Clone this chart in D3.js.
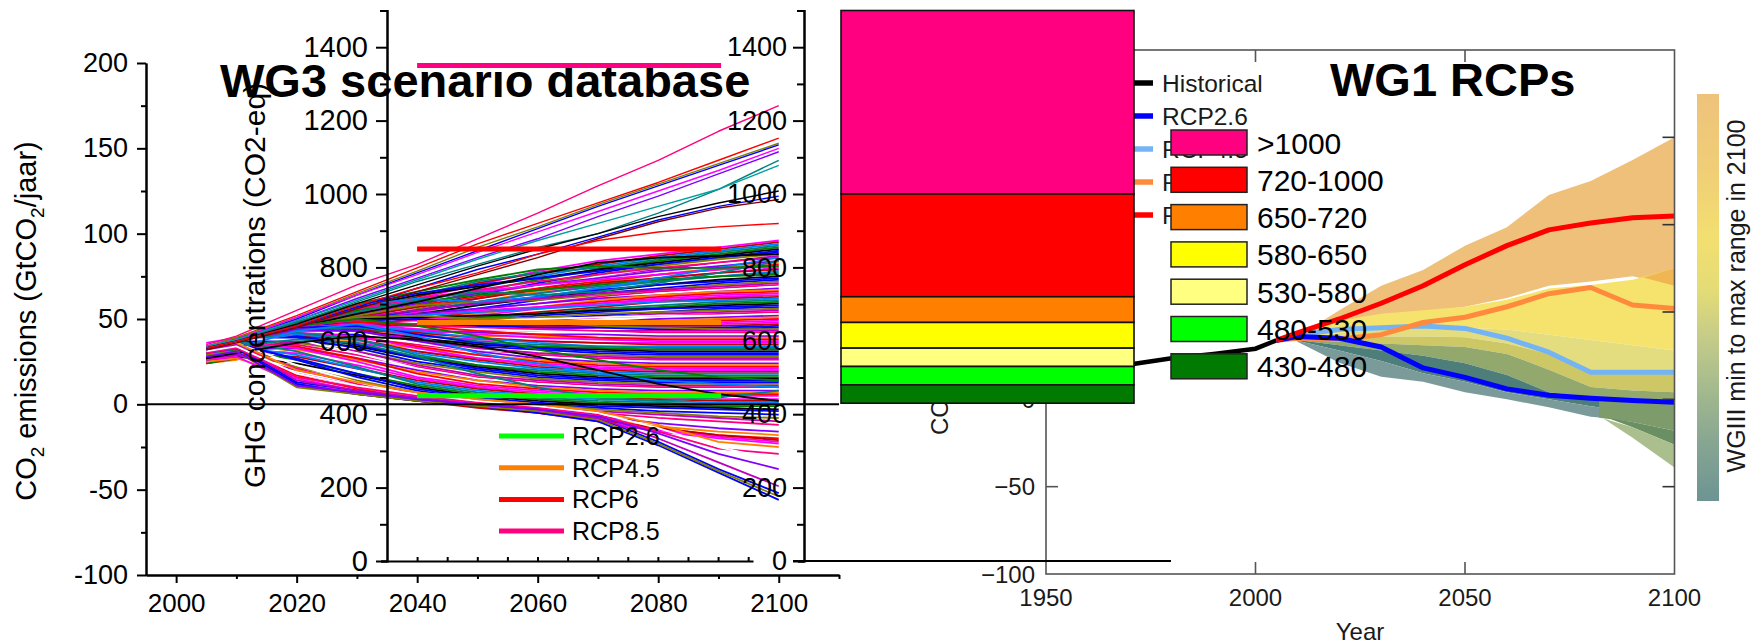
<!DOCTYPE html>
<html><head><meta charset="utf-8">
<script src="https://cdn.jsdelivr.net/npm/d3@7"></script>
<style>body{margin:0;background:#fff;}</style>
</head><body>
<svg id="c" width="1762" height="644"></svg>
<script>
// ---------------- DATA ----------------
// WG3 scenario database: CO2 emissions (GtCO2/yr)
const emisYears = [2005,2010,2020,2030,2040,2050,2060,2070,2080,2090,2100];
const emisTicks = [-100,-50,0,50,100,150,200];
const emisMinor = [-75,-25,25,75,125,175];
const yearTicks = [2000,2020,2040,2060,2080,2100];
const yearMinor = [2010,2030,2050,2070,2090,2110];
const scenTop = [
"35 40 55 70 82 97 112 128 143 160 175",
"34 39 52 66 80 94 106 118 130 143 156",
"34 39 51 65 78 92 104 117 129 141 153",
"33 38 50 64 77 90 103 116 128 140 152",
"34 38 51 64 76 89 101 113 125 137 150",
"33 38 49 62 74 86 97 110 122 135 148",
"33 37 48 60 72 82 92 100 112 126 143",
"34 38 49 61 73 85 96 106 116 126 140",
"33 37 47 59 70 81 91 100 110 118 125",
"33 37 46 57 68 79 88 98 108 116 122",
"32 36 45 56 66 76 86 97 107 115 120",
"33 37 46 58 68 77 88 96 101 104 106"];
const topColors = ["#ff0080","#ff0000","#808000","#0000ff","#ff00ff","#8000ff","#008080","#00a0a0","#000000","#0000ff","#800000","#ff0000"];
const scenUpper = [
"31 35 44 54 62 70 78 84 88 92 96","32 36 45 55 63 71 77 82 87 91 95","27 30 43 52 60 68 75 81 86 90 94",
"33 37 46 56 64 72 77 80 85 89 93","29 33 43 51 58 66 73 79 84 88 92","35 38 47 57 64 69 74 79 83 87 91",
"26 28 42 50 57 64 71 77 82 86 90","34 38 48 58 65 70 74 78 82 86 89","30 32 42 49 56 63 70 76 81 85 88",
"25 27 41 48 55 62 68 74 79 83 87","33 37 47 56 62 67 72 76 80 83 86","28 31 42 50 57 63 69 74 78 82 85",
"32 36 45 53 59 65 70 74 78 81 84","24 26 40 47 54 60 66 71 76 80 83","31 35 44 52 58 63 68 72 76 79 82",
"36 39 46 55 61 66 70 73 76 79 81","30 33 41 48 54 60 65 70 74 77 80","27 29 43 51 57 62 67 71 74 77 79",
"29 32 40 46 52 58 63 68 72 75 78","31 34 42 49 55 60 65 69 72 75 77","34 38 47 55 60 64 67 70 73 75 76",
"26 29 41 47 53 58 62 66 70 73 75","32 35 43 50 55 59 63 67 70 72 74","28 31 39 45 51 56 61 65 68 71 73",
"30 34 44 52 58 60 61 64 67 70 72","33 36 44 51 55 59 62 65 67 69 71","25 28 39 45 50 55 59 63 66 68 70",
"30 34 42 47 51 55 58 62 65 67 69","35 37 43 49 53 56 59 62 64 66 68","27 31 38 44 49 53 57 61 64 66 67",
"31 34 41 46 50 54 57 60 63 65 66","33 37 45 50 52 55 57 59 62 64 65","29 33 40 45 49 52 56 59 61 63 64",
"24 27 39 44 48 51 54 57 60 62 63","32 36 44 49 52 54 56 58 60 61 62","28 31 38 43 47 50 53 56 58 60 61",
"31 34 40 45 48 51 53 55 57 59 60","34 38 46 50 51 52 53 55 56 58 59","30 33 39 43 46 49 52 54 56 57 58",
"26 30 38 42 45 48 50 52 54 56 57","32 35 42 46 48 50 51 53 54 55 56","31 34 40 44 46 48 50 51 53 54 55",
"27 30 36 41 44 47 49 51 52 53 54","33 36 43 47 48 49 50 51 52 52 53","30 33 39 43 44 45 47 48 50 51 52",
"28 32 38 41 43 45 46 48 49 50 51","32 36 43 46 47 47 47 48 48 49 50","29 31 40 43 44 45 46 46 47 48 49",
"25 28 38 41 42 43 44 45 46 47 48","33 37 44 48 47 46 46 46 46 46 47",
"30 34 46 58 62 60 63 68 74 80 86","28 32 44 54 61 66 64 66 71 77 84","33 36 48 59 66 73 79 81 80 80 81",
"31 34 45 53 60 68 76 83 86 87 88"];
const scenLower = [
"32 36 44 49 50 48 47 46 45 45 46","27 30 42 46 47 46 45 45 44 44 45","31 35 45 51 52 50 48 46 45 44 44",
"25 28 39 43 44 44 43 43 43 43 43","34 38 46 49 47 45 44 43 42 42 42","29 32 41 45 45 44 43 42 41 41 41",
"32 36 43 45 43 42 41 41 40 40 40","26 29 38 41 41 40 40 39 39 39 39","31 35 44 48 46 43 41 39 38 38 38",
"35 38 45 47 44 41 39 38 37 37 37","28 31 40 42 40 38 37 36 36 36 36","31 35 42 44 42 39 37 36 35 35 35",
"30 34 43 46 43 39 36 34 34 34 34","33 36 44 45 41 37 35 34 33 33 33","24 27 39 40 38 36 34 33 32 32 32",
"31 35 42 43 39 35 33 32 31 31 31","34 37 45 46 41 36 33 31 30 30 30","29 32 40 41 37 34 32 30 29 29 29",
"27 30 41 42 37 33 30 29 28 28 28","32 36 43 43 38 33 30 28 27 27 27","30 33 40 39 35 31 29 27 26 26 26",
"26 29 42 42 36 31 28 26 25 25 25","33 37 44 43 37 31 27 25 24 24 24","28 31 37 37 33 29 26 24 23 23 23",
"31 34 41 40 34 29 25 23 22 22 22","32 36 42 40 33 27 24 22 21 21 21","25 27 38 36 31 27 23 21 20 20 20",
"29 33 40 38 31 26 22 20 19 19 19","31 35 41 38 30 25 21 19 18 18 18","34 37 42 38 29 23 20 18 17 17 17",
"30 33 39 35 28 23 19 17 16 16 16","27 30 37 34 27 22 18 16 15 15 15","31 35 40 35 27 21 17 15 14 14 14",
"33 36 39 33 25 20 16 14 13 13 13","28 31 36 31 24 19 15 13 12 12 12","29 32 37 31 23 17 14 12 11 11 11",
"31 34 35 29 22 16 13 11 10 10 10","35 38 38 30 21 15 12 10 9 9 9","30 32 33 27 20 14 11 9 8 8 8",
"26 28 32 26 19 14 10 8 7 7 7","31 35 34 27 18 12 9 7 6 6 6","32 36 33 25 16 11 8 6 5 5 5",
"29 31 30 23 15 10 7 5 4 3 3","27 29 28 21 14 9 6 4 3 2 2","31 34 29 21 13 8 5 3 2 1 1",
"33 37 31 22 12 7 4 2 1 0 0","30 32 26 18 11 6 3 1 0 -1 -1","26 28 24 17 10 5 2 0 -1 -2 -3",
"31 35 27 18 9 4 1 -1 -2 -3 -4","32 36 26 16 8 3 0 -2 -4 -5 -6","29 31 22 14 7 3 0 -3 -5 -7 -8",
"27 29 20 13 6 2 -1 -4 -6 -8 -10","31 34 21 12 6 2 -2 -5 -8 -10 -12","33 36 23 13 5 1 -2 -6 -9 -12 -14",
"28 30 18 11 5 1 -3 -7 -11 -14 -16","25 27 16 10 4 0 -3 -8 -13 -16 -18","31 34 17 9 3 0 -4 -9 -14 -18 -20",
"32 35 15 8 3 -1 -4 -10 -15 -19 -22","26 28 12 7 2 -1 -5 -10 -16 -20 -23","30 33 11 6 2 -2 -5 -9 -14 -18 -21",
"29 33 43 47 40 30 24 18 14 12 10","31 34 38 36 28 18 10 4 2 4 8","33 36 46 50 46 40 32 26 20 16 14",
"27 30 36 40 38 34 28 20 12 6 2"];
const scenDeep = [
"31 34 13 8 3 0 -3 -8 -22 -38 -52","30 33 12 6 2 -1 -5 -10 -24 -40 -56","29 31 10 6 2 -1 -4 -9 -23 -39 -54",
"32 35 14 8 4 0 -3 -8 -20 -34 -48","30 33 16 10 5 1 -2 -6 -16 -26 -29","31 34 18 11 6 2 -1 -5 -14 -25 -33",
"28 31 11 7 3 0 -3 -7 -17 -29 -38","33 36 20 13 7 3 0 -4 -12 -22 -25"];
const lineColors = ["#ff00ff","#0000ff","#ff0000","#000000","#8000ff","#008080","#ff0080","#c00000",
                    "#808000","#ff00ff","#0000ff","#ff8000","#008000","#ffffff","#0080ff","#c000c0"];

// GHG concentrations (ppm CO2-eq)
const concTicks = [0,200,400,600,800,1000,1200,1400];
const concMinor = [100,300,500,700,900,1100,1300,1500];
const rcpLabels = ["RCP2.6","RCP4.5","RCP6","RCP8.5"];
const rcpConc = [450,650,850,1350];
const rcpColors = ["#00ff00","#ff8000","#ff0000","#ff0080"];
const rcpSpan = [2040,2090.5];
const panelBTicks = [2040,2045,2050,2055,2060,2065,2070,2075,2080,2085,2090,2095];

// concentration categories (stacked bar)
const catLabels = [">1000","720-1000","650-720","580-650","530-580","480-530","430-480"];
const catLow  = [1000,720,650,580,530,480,430];
const catHigh = [1500,1000,720,650,580,530,480];
const catColors = ["#ff0080","#ff0000","#ff8000","#ffff00","#ffff80","#00ff00","#007a00"];

// WG1 RCPs: CO2 emissions (GtCO2/yr)
const wgTicksY = [-100,-50,0,50,100,150,200];
const wgTicksX = [1950,2000,2050,2100];
const histYears = [1950,1960,1970,1980,1990,2000,2005];
const histValues = [9,13,20,23.5,26,29,33.8];
const rcpYears = [2005,2010,2020,2030,2040,2050,2060,2070,2080,2090,2100];
const rcp26 = [33.8,36,35,30,18,12.6,6,2.3,0.6,-0.6,-1.7];
const rcp45 = [33.8,37,40,41,42,40.6,35,27,15.5,15.5,15.5];
const rcp60 = [33.8,35,34.5,37,44,47,53,60.5,64,54,52];
const rcp85 = [33.8,38,46,55,65,77,88,97,101,104,105];
const wgLegend = ["Historical","RCP2.6","RCP4.5","RCP6.0","RCP8.5"];
const wgLegendColors = ["#000000","#0000ff","#74b4f5","#ff8a3d","#ff0000"];
const bandYears = [2010,2020,2030,2040,2050,2060,2070,2080,2090,2100];
const tanUp   = [36,51,65,74,88,98.5,117,125,137,150];
const tanLo   = [35,42,46,50,53,58,65,67.5,70.5,65];
const yelUp   = [36,45,49,51,53,57,63.5,65.5,68.5,75];
const yelLo   = [35,38,40,41,41,40,37,34,31,28];
const paleLo  = [34,35,36,36,35.5,32,26,17,17,16.6];
const oliveLo = [34,33,32,31,30,26,17,7,5,4];
const ogLo    = [34,31,28,25,20.6,14,4,1,0,-0.6];
const tealMid = [33.5,28,22,15,10,4,0,-4,-7,-8];
const tealLo  = [33,21,13,10,4,0,-4.5,-10,-12,-12];
const overlapYears = [2092.5,2100], overlapLo = [69.8,65], overlapUp = [69.8,75];
const greenYears = [2082,2090,2100], greenUp = [0.8,0,-0.6], greenLo = [-10.5,-13,-18];
const dgYears = [2085,2090,2100], dgUp = [-11,-13,-18], dgLo = [-11.5,-16,-26];
const loYears = [2083,2090,2100], loUp = [-11,-16,-26], loLo = [-11,-22,-39];

// ---------------- DRAW ----------------
const FONT = '"Liberation Sans", Arial, Helvetica, sans-serif';
const svg = d3.select("#c").attr("font-family", FONT);
const plain = d => String(d);

function styleAxis(g, fs, sw) {
  g.attr("font-family", FONT).attr("font-size", fs);
  g.selectAll("path,line").attr("stroke", "#000").attr("stroke-width", sw);
  g.selectAll("text").attr("fill", "#000");
}

// ===== WG1 panel =====
const xW = d3.scaleLinear().domain([1950,2100]).range([1046,1674.5]);
const yW = d3.scaleLinear().domain([-100,200]).range([574,50]);
const gW = svg.append("g");
const bands = [
  [bandYears, tanLo, tanUp, "#eec07a"],
  [bandYears, yelLo, yelUp, "#f6e36e"],
  [overlapYears, overlapLo, overlapUp, "#efb653"],
  [bandYears, paleLo, yelLo, "#e4dd80"],
  [bandYears, oliveLo, paleLo, "#cdc765"],
  [bandYears, ogLo, oliveLo, "#93a86c"],
  [bandYears, tealMid, ogLo, "#4e7e79"],
  [bandYears, tealLo, tealMid, "#7a9b9a"],
  [greenYears, greenLo, greenUp, "#7d9b6b"],
  [dgYears, dgLo, dgUp, "#6a8f63"],
  [loYears, loLo, loUp, "#aabf8d"]
];
bands.forEach(([ys, lo, hi, c]) => {
  gW.append("path")
    .attr("d", d3.area().x((d,i)=>xW(ys[i])).y0((d,i)=>yW(lo[i])).y1((d,i)=>yW(hi[i]))(ys))
    .attr("fill", c).attr("stroke", "none");
});
const lineW = (ys) => d3.line().x((d,i)=>xW(ys[i])).y(d=>yW(d));
gW.append("path").attr("d", lineW(histYears)(histValues)).attr("fill","none").attr("stroke","#000").attr("stroke-width",4.5);
[[rcp45,"#74b4f5"],[rcp60,"#ff8a3d"],[rcp26,"#0000ff"],[rcp85,"#ff0000"]].forEach(([v,c]) => {
  gW.append("path").attr("d", lineW(rcpYears)(v)).attr("fill","none").attr("stroke",c).attr("stroke-width",5).attr("stroke-linejoin","round");
});
// frame
gW.append("rect").attr("x",xW(1950)).attr("y",yW(200)).attr("width",xW(2100)-xW(1950)).attr("height",yW(-100)-yW(200))
  .attr("fill","none").attr("stroke","#555").attr("stroke-width",1.6);
[2000,2050].forEach(yr => {
  gW.append("line").attr("x1",xW(yr)).attr("x2",xW(yr)).attr("y1",yW(-100)).attr("y2",yW(-100)-12).attr("stroke","#555").attr("stroke-width",1.6);
  gW.append("line").attr("x1",xW(yr)).attr("x2",xW(yr)).attr("y1",yW(200)).attr("y2",yW(200)+12).attr("stroke","#555").attr("stroke-width",1.6);
});
[-50,0,50,100,150].forEach(v => {
  gW.append("line").attr("x1",xW(2100)).attr("x2",xW(2100)-12).attr("y1",yW(v)).attr("y2",yW(v)).attr("stroke","#333").attr("stroke-width",1.6);
  gW.append("line").attr("x1",xW(1950)).attr("x2",xW(1950)+12).attr("y1",yW(v)).attr("y2",yW(v)).attr("stroke","#555").attr("stroke-width",1.6);
});
wgTicksX.forEach(yr => {
  gW.append("text").attr("x",xW(yr)).attr("y",606).attr("text-anchor","middle").attr("font-size",24).attr("fill","#1a1a1a").text(yr);
});
wgTicksY.filter(v=>v<200).forEach(v => {
  gW.append("text").attr("x",1035).attr("y",yW(v)+8.5).attr("text-anchor","end").attr("font-size",24).attr("fill","#1a1a1a")
    .text(v < 0 ? "\u2212" + Math.abs(v) : v);
});
gW.append("text").attr("x",1360).attr("y",640).attr("text-anchor","middle").attr("font-size",24).attr("fill","#1a1a1a").text("Year");
gW.append("text").attr("transform","translate(948,435) rotate(-90)").attr("font-size",24).attr("fill","#1a1a1a")
  .call(t => {
    t.append("tspan").text("CO");
    t.append("tspan").attr("font-size",16).attr("dy",6).text("2");
    t.append("tspan").attr("dy",-6).text(" emissions (GtCO");
    t.append("tspan").attr("font-size",16).attr("dy",6).text("2");
    t.append("tspan").attr("dy",-6).text("/yr)");
  });
// legend (WG1)
wgLegend.forEach((lab,i) => {
  const cy = 83 + i*33;
  gW.append("line").attr("x1",1118).attr("x2",1153).attr("y1",cy).attr("y2",cy).attr("stroke",wgLegendColors[i]).attr("stroke-width",5.5);
  gW.append("text").attr("x",1162).attr("y",cy+9).attr("font-size",24.5).attr("fill","#1a1a1a").text(lab);
});
gW.append("text").attr("x",1330).attr("y",96).attr("font-size",47).attr("font-weight","bold").attr("fill","#000").text("WG1 RCPs");
// colour bar
const defs = svg.append("defs");
const grad = defs.append("linearGradient").attr("id","cbar").attr("x1",0).attr("y1",0).attr("x2",0).attr("y2",1);
[[0,"#eec27b"],[0.2,"#f0cf76"],[0.35,"#f3df70"],[0.48,"#e4dc76"],[0.6,"#c5cb88"],[0.72,"#a5bb8e"],[0.86,"#86a592"],[1,"#6d9494"]]
  .forEach(([o,c]) => grad.append("stop").attr("offset",o).attr("stop-color",c));
gW.append("rect").attr("x",1697).attr("y",94).attr("width",22).attr("height",407).attr("fill","url(#cbar)");
gW.append("text").attr("transform","translate(1745,296) rotate(-90)").attr("text-anchor","middle").attr("font-size",25).attr("fill","#1a1a1a")
  .text("WGIII min to max range in 2100");

// ===== Panel A: CO2 emissions =====
const xA = d3.scaleLinear().domain([1995,2110]).range([146,839]);
const yA = d3.scaleLinear().domain([-100,200]).range([575,63]);
const gA = svg.append("g");
const axL = gA.append("g").attr("transform","translate(146,0)")
  .call(d3.axisLeft(yA).tickValues(emisTicks).tickSize(9).tickPadding(9).tickFormat(plain).tickSizeOuter(0));
styleAxis(axL, 27, 2);
const axLm = gA.append("g").attr("transform","translate(146,0)")
  .call(d3.axisLeft(yA).tickValues(emisMinor).tickSize(5).tickFormat("").tickSizeOuter(0));
styleAxis(axLm, 27, 2);
const axB = gA.append("g").attr("transform","translate(0,575)")
  .call(d3.axisBottom(xA).tickValues(yearTicks).tickSize(8).tickPadding(11).tickFormat(plain).tickSizeOuter(0));
styleAxis(axB, 26, 2);
const axBm = gA.append("g").attr("transform","translate(0,575)")
  .call(d3.axisBottom(xA).tickValues(yearMinor).tickSize(4).tickFormat("").tickSizeOuter(0));
styleAxis(axBm, 26, 2);
gA.append("text").attr("transform","translate(36,321) rotate(-90)").attr("text-anchor","middle").attr("font-size",29).attr("fill","#000")
  .call(t => {
    t.append("tspan").text("CO");
    t.append("tspan").attr("font-size",19).attr("dy",8).text("2");
    t.append("tspan").attr("dy",-8).text(" emissions (GtCO");
    t.append("tspan").attr("font-size",19).attr("dy",8).text("2");
    t.append("tspan").attr("dy",-8).text("/jaar)");
  });

// spaghetti
const lineA = d3.line().x((d,i)=>xA(emisYears[i])).y(d=>yA(d));
const gS = svg.append("g").attr("fill","none").attr("stroke-width",1.8).attr("stroke-linejoin","round");
const dense = scenUpper.concat(scenLower, scenDeep);
dense.forEach((s,i) => {
  gS.append("path").attr("d", lineA(s.split(" ").map(Number))).attr("stroke", lineColors[(i*7) % lineColors.length]);
});
scenTop.forEach((s,i) => {
  gS.append("path").attr("d", lineA(s.split(" ").map(Number))).attr("stroke", topColors[i]).attr("stroke-width",1.4);
});
// zero line
svg.append("line").attr("x1",xA(1995)).attr("x2",xA(2110)).attr("y1",yA(0)).attr("y2",yA(0)).attr("stroke","#000").attr("stroke-width",2);

// ===== Panel B: GHG concentrations =====
const yB = d3.scaleLinear().domain([0,1500]).range([561,10.5]);
const xB = d3.scaleLinear().domain([2035,2095.8]).range([387,753]);
const axBL = svg.append("g").attr("transform","translate(387,0)")
  .call(d3.axisLeft(yB).tickValues(concTicks).tickSize(11).tickPadding(8).tickFormat(plain).tickSizeOuter(6));
styleAxis(axBL, 29, 2);
const axBLm = svg.append("g").attr("transform","translate(387,0)")
  .call(d3.axisLeft(yB).tickValues(concMinor).tickSize(7).tickFormat("").tickSizeOuter(6));
styleAxis(axBLm, 29, 2);
const axBB = svg.append("g").attr("transform","translate(0,561)")
  .call(d3.axisBottom(xB).tickValues(panelBTicks).tickSize(-4).tickFormat("").tickSizeOuter(0));
styleAxis(axBB, 20, 2);
svg.append("text").attr("transform","translate(265,488) rotate(-90)").attr("font-size",30).attr("fill","#000")
  .text("GHG concentrations (CO2-eq)");
svg.append("text").attr("x",220).attr("y",97).attr("font-size",47).attr("font-weight","bold").attr("fill","#000")
  .text("WG3 scenario database");
rcpConc.forEach((v,i) => {
  svg.append("line").attr("x1",xB(rcpSpan[0])).attr("x2",xB(rcpSpan[1])).attr("y1",yB(v)).attr("y2",yB(v))
    .attr("stroke",rcpColors[i]).attr("stroke-width",5);
});
rcpLabels.forEach((lab,i) => {
  const cy = 436 + i*31.7;
  svg.append("line").attr("x1",499).attr("x2",564).attr("y1",cy).attr("y2",cy).attr("stroke",rcpColors[i]).attr("stroke-width",5);
  svg.append("text").attr("x",572).attr("y",cy+9).attr("font-size",25).attr("fill","#000").text(lab);
});

// ===== Panel C: concentration categories =====
const axC = svg.append("g").attr("transform","translate(804,0)")
  .call(d3.axisLeft(yB).tickValues(concTicks).tickSize(11).tickPadding(6).tickFormat(plain).tickSizeOuter(6));
styleAxis(axC, 27, 2);
const axCm = svg.append("g").attr("transform","translate(804,0)")
  .call(d3.axisLeft(yB).tickValues(concMinor).tickSize(7).tickFormat("").tickSizeOuter(6));
styleAxis(axCm, 27, 2);
svg.append("line").attr("x1",793).attr("x2",1171).attr("y1",561).attr("y2",561).attr("stroke","#000").attr("stroke-width",2);
catLabels.forEach((lab,i) => {
  svg.append("rect").attr("x",841).attr("width",293).attr("y",yB(catHigh[i])).attr("height",yB(catLow[i])-yB(catHigh[i]))
    .attr("fill",catColors[i]).attr("stroke","#111").attr("stroke-width",1.6);
});
catLabels.forEach((lab,i) => {
  const top = 130 + i*37.3;
  svg.append("rect").attr("x",1171).attr("y",top).attr("width",76).attr("height",25)
    .attr("fill",catColors[i]).attr("stroke","#222").attr("stroke-width",1.5);
  svg.append("text").attr("x",1257).attr("y",top+23.5).attr("font-size",30).attr("fill","#000").text(lab);
});
</script>
</body></html>
